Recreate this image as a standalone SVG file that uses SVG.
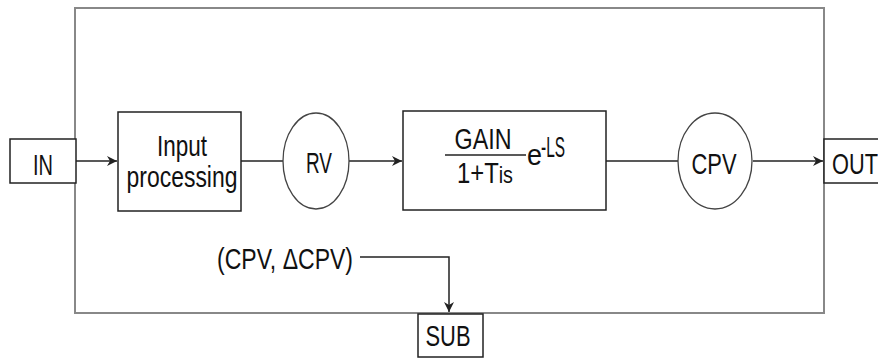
<svg xmlns="http://www.w3.org/2000/svg" width="878" height="358" viewBox="0 0 878 358">
<style>
.box{fill:#fff;stroke:#222;stroke-width:1.5}
.ell{fill:#fff;stroke:#444;stroke-width:1.3}
.ln{fill:none;stroke:#222;stroke-width:1.5}
text{font-family:"Liberation Sans",Arial,sans-serif;font-size:29px;fill:#111}
</style>
<defs>
<marker id="ah" viewBox="0 0 10 10" refX="10" refY="5" markerWidth="10" markerHeight="10" markerUnits="userSpaceOnUse" orient="auto">
<path d="M0,0 L10,5 L0,10 L3,5 Z" fill="#222"/>
</marker>
</defs>
<rect id="frame" x="75" y="8" width="749" height="305" fill="#fff" stroke="#888" stroke-width="2"/>
<g id="connectors">
<line class="ln" x1="76" y1="161" x2="117" y2="161" marker-end="url(#ah)"/>
<line class="ln" x1="241" y1="161" x2="284" y2="161"/>
<line class="ln" x1="349" y1="161" x2="402" y2="161" marker-end="url(#ah)"/>
<line class="ln" x1="606" y1="161" x2="678" y2="161"/>
<line class="ln" x1="753" y1="161" x2="823" y2="161" marker-end="url(#ah)"/>
<path class="ln" d="M360,257 H449 V312" marker-end="url(#ah)"/>
</g>
<g id="in"><rect class="box" x="10" y="139" width="66" height="44"/><text x="43" y="175" text-anchor="middle" textLength="20" lengthAdjust="spacingAndGlyphs">IN</text></g>
<g id="input-processing"><rect class="box" x="118" y="112" width="123" height="99"/>
<text x="182" y="156" font-size="31" text-anchor="middle" textLength="50" lengthAdjust="spacingAndGlyphs">Input</text>
<text x="182" y="187" font-size="31" text-anchor="middle" textLength="111" lengthAdjust="spacingAndGlyphs">processing</text></g>
<g id="rv"><ellipse class="ell" cx="316" cy="161" rx="33" ry="48"/><text x="319" y="173" text-anchor="middle" textLength="26" lengthAdjust="spacingAndGlyphs">RV</text></g>
<g id="gain"><rect class="box" x="403" y="111" width="203" height="99"/>
<text x="483" y="149" font-size="27" text-anchor="middle" textLength="57" lengthAdjust="spacingAndGlyphs">GAIN</text>
<line x1="445" y1="155" x2="526" y2="155" stroke="#222" stroke-width="1.5"/>
<text x="457" y="183" textLength="56" lengthAdjust="spacingAndGlyphs">1+T<tspan font-size="24">is</tspan></text>
<text x="527" y="165" font-size="23" textLength="15" lengthAdjust="spacingAndGlyphs">e</text>
<text x="541" y="157" font-size="17" textLength="24" lengthAdjust="spacingAndGlyphs">-LS</text></g>
<g id="cpv"><ellipse class="ell" cx="715" cy="161" rx="37" ry="48"/><text x="714" y="174" text-anchor="middle" textLength="45" lengthAdjust="spacingAndGlyphs">CPV</text></g>
<g id="out"><rect class="box" x="824" y="139" width="70" height="44"/><text x="832" y="174" textLength="46" lengthAdjust="spacingAndGlyphs">OUT</text></g>
<g id="cpv-label"><text x="217" y="269" font-size="28" textLength="136" lengthAdjust="spacingAndGlyphs">(CPV, ΔCPV)</text></g>
<g id="sub"><rect class="box" x="418" y="314" width="65" height="43"/><text x="448" y="346" text-anchor="middle" textLength="45" lengthAdjust="spacingAndGlyphs">SUB</text></g>
</svg>
